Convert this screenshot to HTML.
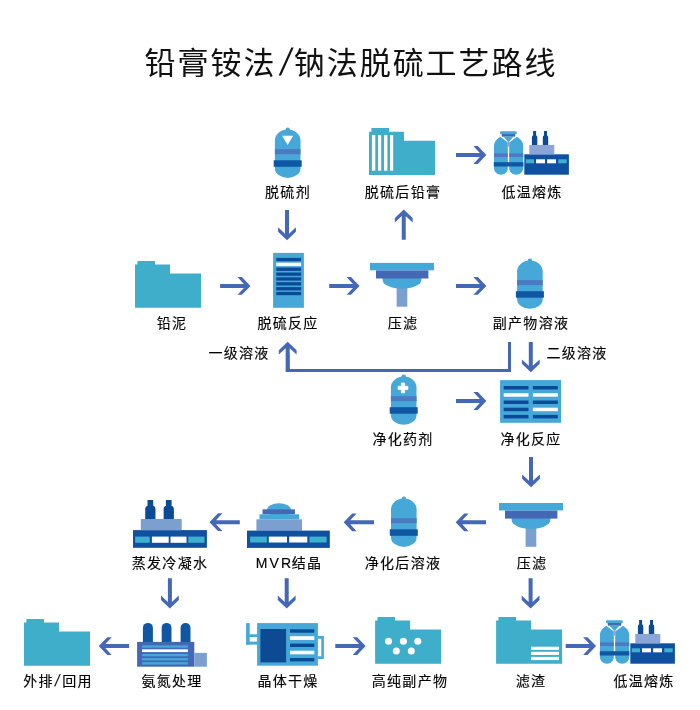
<!DOCTYPE html>
<html lang="zh-CN">
<head>
<meta charset="utf-8">
<title>铅膏铵法/钠法脱硫工艺路线</title>
<style>
html,body{margin:0;padding:0;background:#fff;}
body{width:700px;height:710px;position:relative;overflow:hidden;font-family:"Liberation Sans","Noto Sans CJK SC",sans-serif;color:#1a1a1a;}
svg{position:absolute;left:0;top:0;}
.title{position:absolute;left:0.8px;top:41px;width:700px;text-align:center;font-size:31px;line-height:46px;letter-spacing:1.95px;font-weight:400;color:#111;white-space:nowrap;will-change:transform;}
.title span{display:inline-block;margin:0 3.4px;transform:skewX(-13deg) scaleY(1.22);transform-origin:50% 62%;}
.lb{position:absolute;width:160px;margin-left:-80px;text-align:center;font-size:14px;line-height:20px;letter-spacing:1.3px;white-space:nowrap;color:#000;will-change:transform;-webkit-text-stroke:0.15px #000;}
</style>
</head>
<body>
<svg width="700" height="710" viewBox="0 0 700 710">
<defs>
  <!-- arrow pointing right, tip at 0,0, length 30 -->
  <path id="ar" d="M-12.6,-8.9 L-8.2,-8.9 L0.35,0 L-8.2,8.9 L-12.6,8.9 L-6.2,2 L-30,2 L-30,-2 L-6.2,-2 Z" fill="#4468B5"/>
  <!-- folder, origin top-left of bbox -->
  <path id="folder" d="M0,3.6 H2.4 V0 H20 V3.6 H35 V12.6 H66 V46.8 H0 Z" fill="#3FAECB"/>
  <!-- tank, origin: centre x, nub top -->
  <g id="tank">
    <circle cx="0" cy="2.3" r="2.2" fill="#45A8D8"/>
    <path d="M-12.8,13 A12.8,10.8 0 0 1 12.8,13 V41 A12.8,9.5 0 0 1 -12.8,41 Z" fill="#45A8D8"/>
    <rect x="-12.8" y="21.8" width="25.6" height="5" fill="#4B7AC3"/>
    <rect x="-14" y="32.9" width="28" height="6.5" fill="#0F57A3"/>
  </g>
  <!-- funnel, origin: centre x, top -->
  <g id="funnel">
    <rect x="-5.4" y="20" width="10.7" height="23.8" fill="#7BA0D0"/>
    <path d="M-19.4,15 H19.4 V17 A19.4,8.8 0 0 1 -19.4,17 Z" fill="#45A8D8"/>
    <rect x="-26" y="7.4" width="52.4" height="8.2" fill="#4468B4"/>
    <rect x="-32" y="0" width="64" height="7.4" fill="#45A8D8"/>
  </g>
  <!-- chimney bottle: origin left, top ; width 5, height 14 -->
  <path id="bottle" d="M1,0 H4 V4.2 C5.2,5 5.2,6 5.2,7 V14 H-0.2 V7 C-0.2,6 -0.2,5 1,4.2 Z" fill="#0D4A94"/>
  <!-- double tank + building, absolute coords of first instance -->
  <g id="smelt">
    <!-- tanks -->
    <path d="M494,146 C494,141.5 497,139 500.3,136.8 L507.8,142.5 V168 C507.8,172 504.5,174.7 500.9,174.7 C497.3,174.7 494,172 494,168 Z" fill="#45A8D8"/>
    <path d="M523.2,146 C523.2,141.5 520.2,139 516.9,136.8 L509.2,142.5 V168 C509.2,172 512.6,174.7 516.2,174.7 C519.8,174.7 523.2,172 523.2,168 Z" fill="#45A8D8"/>
    <rect x="494" y="153.4" width="13.8" height="3.6" fill="#4B7AC3"/>
    <rect x="509.2" y="153.4" width="14" height="3.6" fill="#4B7AC3"/>
    <rect x="493.8" y="162.2" width="29.6" height="4.3" fill="#0F57A3"/>
    <!-- cap -->
    <rect x="500" y="131.2" width="16.8" height="3" rx="1.2" fill="#45A8D8"/>
    <rect x="501.8" y="134" width="13.4" height="2.7" fill="#4468B4"/>
    <path d="M503.6,136.7 H513.4 L509.4,141.2 H507.6 Z" fill="#45A8D8"/>
    <rect x="507.6" y="141" width="1.8" height="5.6" fill="#8BA5D6"/>
    <!-- building -->
    <rect x="524.3" y="154.3" width="44.6" height="20.4" fill="#0F50A0"/>
    <rect x="529.3" y="145" width="25" height="9.3" fill="#8BA5D6"/>
    <use href="#bottle" x="532.1" y="131"/>
    <use href="#bottle" x="543" y="131"/>
    <rect x="525.7" y="159.3" width="8.3" height="4" fill="#3FB0CF"/>
    <rect x="536" y="159.3" width="9" height="4" fill="#fff"/>
    <rect x="547.1" y="159.3" width="8.9" height="4" fill="#fff"/>
    <rect x="558.3" y="159.3" width="8.4" height="4" fill="#3FB0CF"/>
  </g>
</defs>

<!-- ===== Row 1 ===== -->
<use href="#tank" x="287.7" y="127.4"/>
<path d="M282.1,135.8 H293.1 L287.6,145 Z" fill="#fff"/>

<use href="#folder" x="369" y="128.1"/>
<g fill="#fff">
  <rect x="371.9" y="135" width="3.4" height="35.7"/>
  <rect x="378" y="135" width="3.2" height="35.7"/>
  <rect x="384" y="135" width="3.4" height="35.7"/>
  <rect x="390" y="135" width="3.2" height="35.7"/>
</g>

<use href="#smelt"/>

<!-- ===== Row 2 ===== -->
<use href="#folder" x="135" y="261"/>

<rect x="273.1" y="252.9" width="30.8" height="54.9" fill="#45A8D8"/>
<g fill="#0A4A97">
  <rect x="276.3" y="257.9" width="24.8" height="3.3"/>
  <rect x="276.3" y="267.6" width="24.8" height="3.3"/>
  <rect x="276.3" y="272.5" width="24.8" height="3.3"/>
  <rect x="276.3" y="277.3" width="24.8" height="3.3"/>
  <rect x="276.3" y="282.2" width="24.8" height="3.3"/>
  <rect x="276.3" y="287.1" width="24.8" height="3.3"/>
  <rect x="276.3" y="291.9" width="24.8" height="3.3"/>
</g>
<rect x="276.3" y="262.7" width="24.8" height="3.4" fill="#fff"/>

<use href="#funnel" x="402" y="262.9"/>
<use href="#tank" x="529.9" y="258.3"/>

<!-- ===== Row 3 ===== -->
<use href="#tank" x="403.7" y="374.3"/>
<path d="M401.4,383 H404.6 V386.3 H407.9 V389.5 H404.6 V392.8 H401.4 V389.5 H398.1 V386.3 H401.4 Z" fill="#fff" stroke="#fff" stroke-width="0.8" stroke-linejoin="round"/>

<rect x="500.1" y="380.1" width="61" height="42.7" fill="#45A8D8"/>
<g fill="#0A4A97">
  <rect x="503.7" y="386" width="24.8" height="3.5"/>
  <rect x="532.9" y="386" width="24.9" height="3.5"/>
  <rect x="503.7" y="400.5" width="24.8" height="3.5"/>
  <rect x="532.9" y="400.5" width="24.9" height="3.5"/>
  <rect x="503.7" y="407.7" width="24.8" height="3.5"/>
  <rect x="503.7" y="414.9" width="24.8" height="3.5"/>
  <rect x="532.9" y="414.9" width="24.9" height="3.5"/>
</g>
<g fill="#fff">
  <rect x="503.7" y="393.2" width="24.8" height="3.5"/>
  <rect x="532.9" y="393.2" width="24.9" height="3.5"/>
  <rect x="532.9" y="407.7" width="24.9" height="3.5"/>
</g>

<!-- ===== Row 4 ===== -->
<use href="#funnel" x="531" y="503"/>
<use href="#tank" x="403.8" y="496.4"/>

<!-- MVR -->
<g>
  <ellipse cx="279" cy="510" rx="12.1" ry="6.7" fill="#45A8D8"/>
  <rect x="262.5" y="509.4" width="32.4" height="5" fill="#4468B4"/>
  <rect x="259.5" y="514.3" width="39.6" height="5.1" fill="#45A8D8"/>
  <rect x="256.4" y="519.3" width="45.6" height="11.4" fill="#7BA0D0"/>
  <rect x="247" y="530.6" width="82.8" height="17.3" fill="#0F50A0"/>
  <rect x="250.1" y="536.6" width="16.8" height="5.9" fill="#3FB0CF"/>
  <rect x="268.8" y="536.6" width="18.2" height="5.9" fill="#fff"/>
  <rect x="289.2" y="536.6" width="18.1" height="5.9" fill="#fff"/>
  <rect x="309.4" y="536.6" width="17.2" height="5.9" fill="#3FB0CF"/>
</g>

<!-- evaporator -->
<g>
  <rect x="133" y="530.1" width="73.9" height="17.7" fill="#0F50A0"/>
  <rect x="140.8" y="519" width="40.9" height="11.2" fill="#7BA0D0"/>
  <g transform="translate(145.6,500) scale(1.9,1.36)"><use href="#bottle"/></g>
  <g transform="translate(164,500) scale(1.9,1.36)"><use href="#bottle"/></g>
  <rect x="135.2" y="536.6" width="14.5" height="6.2" fill="#3FB0CF"/>
  <rect x="151.9" y="536.6" width="16.8" height="6.2" fill="#fff"/>
  <rect x="170.5" y="536.6" width="16" height="6.2" fill="#fff"/>
  <rect x="188.3" y="536.6" width="16.2" height="6.2" fill="#3FB0CF"/>
</g>

<!-- ===== Row 5 ===== -->
<use href="#folder" x="24" y="619"/>

<!-- ammonia treatment -->
<g>
  <g fill="#0F57A3">
    <path d="M142.9,643 V627.9 A5,5 0 0 1 152.9,627.9 V643 Z"/>
    <path d="M161.7,643 V627.8 A4.9,4.9 0 0 1 171.5,627.8 V643 Z"/>
    <path d="M180.6,643 V627.85 A4.95,4.95 0 0 1 190.5,627.85 V643 Z"/>
  </g>
  <rect x="137.1" y="641.9" width="57.2" height="24.8" fill="#4468B4"/>
  <rect x="194.3" y="652.9" width="12.6" height="13.8" fill="#7BA0D0"/>
  <g fill="#45A8D8">
    <rect x="142.1" y="645.4" width="45.8" height="2.3"/>
    <rect x="142.1" y="654" width="45.8" height="2.3"/>
    <rect x="142.1" y="658.1" width="45.8" height="2.3"/>
    <rect x="142.1" y="662.2" width="45.8" height="2.3"/>
  </g>
  <rect x="142.1" y="649.3" width="45.8" height="2.8" fill="#fff"/>
</g>

<!-- dryer -->
<g>
  <rect x="257.1" y="623.1" width="60.8" height="42.6" fill="#45A8D8"/>
  <rect x="260.4" y="629" width="25.7" height="33.4" fill="#0D4A94"/>
  <g fill="#0A4A97">
    <rect x="290" y="629.3" width="24.3" height="3.4"/>
    <rect x="290" y="643.6" width="24.3" height="3.4"/>
    <rect x="290" y="658" width="24.3" height="3.4"/>
  </g>
  <g fill="#fff">
    <rect x="290" y="636.2" width="24.3" height="3.7"/>
    <rect x="290" y="650.7" width="24.3" height="3.6"/>
  </g>
  <rect x="246.1" y="623.1" width="3.6" height="21.5" fill="#45A8D8"/>
  <rect x="246.1" y="634.3" width="11.5" height="2.7" fill="#45A8D8"/>
  <rect x="246.1" y="641.6" width="11.5" height="3" fill="#45A8D8"/>
  <path d="M317.5,637.4 H322.6 V657.6 H317.5" fill="none" stroke="#45A8D8" stroke-width="2.6"/>
</g>

<!-- high purity by-product -->
<use href="#folder" x="375.1" y="617"/>
<g fill="#fff">
  <circle cx="388.5" cy="641.2" r="3.5"/>
  <circle cx="403.4" cy="641.2" r="3.5"/>
  <circle cx="417.8" cy="641.2" r="3.5"/>
  <circle cx="396.3" cy="651.1" r="3.5"/>
  <circle cx="411.3" cy="651.1" r="3.5"/>
</g>

<!-- filter residue -->
<use href="#folder" x="496.1" y="617"/>
<g fill="#fff">
  <rect x="531.1" y="646.7" width="27.9" height="3.2"/>
  <rect x="531.1" y="651.8" width="27.9" height="3.2"/>
  <rect x="531.1" y="656.9" width="27.9" height="3.2"/>
</g>

<use href="#smelt" x="106" y="489"/>

<!-- ===== connector lines ===== -->
<path d="M287.7,354 V370.45" fill="none" stroke="#4468B5" stroke-width="3.6"/><path d="M285.9,370.45 H509.5 V342" fill="none" stroke="#4468B5" stroke-width="3"/>

<!-- ===== arrows ===== -->
<use href="#ar" transform="translate(287,239.9) rotate(90)"/>
<use href="#ar" transform="translate(403.75,209.8) rotate(-90)"/>
<use href="#ar" transform="translate(486,155)"/>
<use href="#ar" transform="translate(250.1,285.9)"/>
<use href="#ar" transform="translate(359.2,285.9)"/>
<use href="#ar" transform="translate(486,285.9)"/>
<use href="#ar" transform="translate(287.7,342) rotate(-90)"/>
<use href="#ar" transform="translate(530.8,372) rotate(90)"/>
<use href="#ar" transform="translate(486,401)"/>
<use href="#ar" transform="translate(531,487) rotate(90)"/>
<use href="#ar" transform="translate(456,522.3) rotate(180)"/>
<use href="#ar" transform="translate(344,522.3) rotate(180)"/>
<use href="#ar" transform="translate(209.8,522.2) rotate(180)"/>
<use href="#ar" transform="translate(169.9,608.2) rotate(90)"/>
<use href="#ar" transform="translate(286.7,608.2) rotate(90)"/>
<use href="#ar" transform="translate(530.6,608.2) rotate(90)"/>
<use href="#ar" transform="translate(99.1,646.1) rotate(180)"/>
<use href="#ar" transform="translate(365.3,646.1)"/>
<use href="#ar" transform="translate(595.7,646.1)"/>
</svg>

<div class="title">铅膏铵法<span>/</span>钠法脱硫工艺路线</div>

<div class="lb" style="left:288.2px;top:182px;">脱硫剂</div>
<div class="lb" style="left:402.8px;top:182px;">脱硫后铅膏</div>
<div class="lb" style="left:531.8px;top:182px;">低温熔炼</div>

<div class="lb" style="left:171.5px;top:313px;">铅泥</div>
<div class="lb" style="left:288.3px;top:313px;">脱硫反应</div>
<div class="lb" style="left:402.9px;top:313px;">压滤</div>
<div class="lb" style="left:531px;top:313px;">副产物溶液</div>

<div class="lb" style="left:238.8px;top:343px;">一级溶液</div>
<div class="lb" style="left:577.1px;top:343px;">二级溶液</div>

<div class="lb" style="left:402.5px;top:429px;">净化药剂</div>
<div class="lb" style="left:531.2px;top:429px;">净化反应</div>

<div class="lb" style="left:170.1px;top:553px;">蒸发冷凝水</div>
<div class="lb" style="left:288.9px;top:553px;"><span style="letter-spacing:2.2px">MV</span><span style="letter-spacing:0.6px">R</span>结晶</div>
<div class="lb" style="left:402.8px;top:553px;">净化后溶液</div>
<div class="lb" style="left:531.5px;top:553px;">压滤</div>

<div class="lb" style="left:57.8px;top:671px;">外排<span style="display:inline-block;margin:0 1.6px;transform:skewX(-12deg) scaleY(1.15);transform-origin:50% 62%;">/</span>回用</div>
<div class="lb" style="left:171.9px;top:671px;">氨氮处理</div>
<div class="lb" style="left:288px;top:671px;">晶体干燥</div>
<div class="lb" style="left:410.3px;top:671px;">高纯副产物</div>
<div class="lb" style="left:531.3px;top:671px;">滤渣</div>
<div class="lb" style="left:644.1px;top:671px;">低温熔炼</div>
</body>
</html>
